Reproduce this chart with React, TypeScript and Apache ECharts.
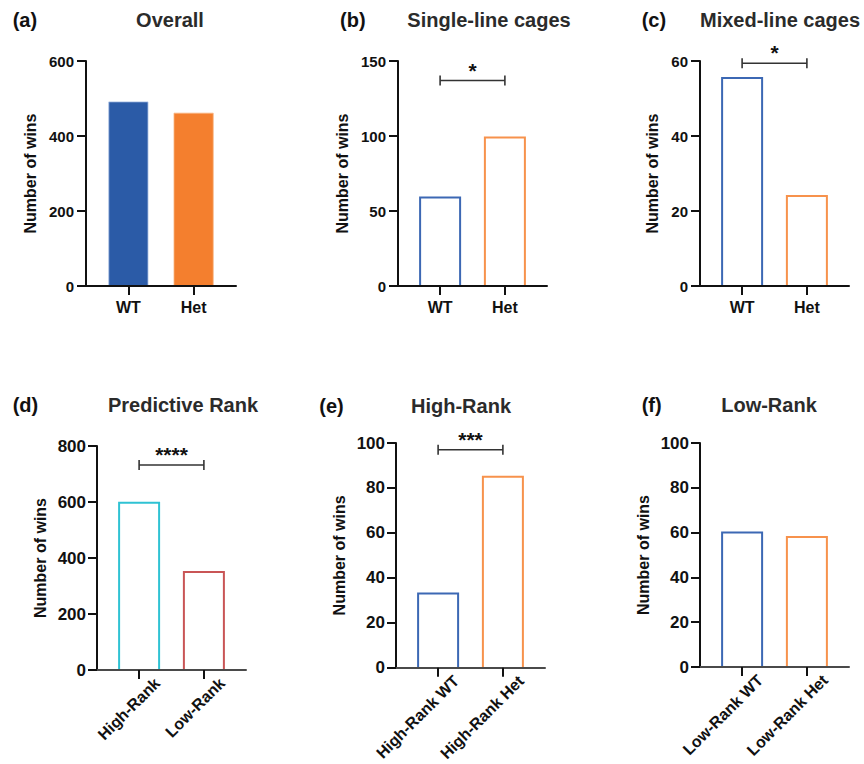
import React, { useEffect, useRef } from 'react';
import * as echarts from 'echarts';

const FONT = '"Liberation Sans", Arial, Helvetica, sans-serif';

// ---------- data ----------
const catsA = ['WT', 'Het'];
const valsA = [492, 462];
const catsB = ['WT', 'Het'];
const valsB = [59, 99];
const catsC = ['WT', 'Het'];
const valsC = [55.5, 24];
const catsD = ['High-Rank', 'Low-Rank'];
const valsD = [597, 350];
const catsE = ['High-Rank WT', 'High-Rank Het'];
const valsE = [33, 85];
const catsF = ['Low-Rank WT', 'Low-Rank Het'];
const valsF = [60, 58];

const ticksA = [0, 200, 400, 600];
const ticksB = [0, 50, 100, 150];
const ticksC = [0, 20, 40, 60];
const ticksD = [0, 200, 400, 600, 800];
const ticksE = [0, 20, 40, 60, 80, 100];
const ticksF = [0, 20, 40, 60, 80, 100];

const sigB = { y: 137, label: '*' };
const sigC = { y: 59.4, label: '*' };
const sigD = { y: 732, label: '****' };
const sigE = { y: 97, label: '***' };

const titles = ['Overall', 'Single-line cages', 'Mixed-line cages', 'Predictive Rank', 'High-Rank', 'Low-Rank'];
const letters = ['(a)', '(b)', '(c)', '(d)', '(e)', '(f)'];

// ---------- styles / layout ----------
const BLUE = '#2b5ba7';
const ORANGE = '#f47f2e';
const BLUE_L = '#3c68b4';
const ORANGE_L = '#f7924c';
const CYAN = '#2fc2d3';
const RED = '#c95556';
const BAR_W = 40;

const panels = [
  { cats: catsA, vals: valsA, ticks: ticksA, sig: null, filled: true, colors: [BLUE, ORANGE], row: 0,
    grid: { left: 86, top: 61, width: 150, height: 225 }, nameGap: 48, title: { x: 170, y: 20 }, letter: { x: 12.7, y: 20 } },
  { cats: catsB, vals: valsB, ticks: ticksB, sig: sigB, filled: false, colors: [BLUE_L, ORANGE_L], row: 0,
    grid: { left: 398, top: 61, width: 149, height: 225 }, nameGap: 48, title: { x: 489, y: 20 }, letter: { x: 340, y: 20 } },
  { cats: catsC, vals: valsC, ticks: ticksC, sig: sigC, filled: false, colors: [BLUE_L, ORANGE_L], row: 0,
    grid: { left: 700, top: 61, width: 149, height: 225 }, nameGap: 40, title: { x: 780, y: 20 }, letter: { x: 641.7, y: 20 } },
  { cats: catsD, vals: valsD, ticks: ticksD, sig: sigD, filled: false, colors: [CYAN, RED], row: 1,
    grid: { left: 97, top: 446, width: 149, height: 224 }, nameGap: 49, title: { x: 183, y: 405 }, letter: { x: 12.7, y: 405 } },
  { cats: catsE, vals: valsE, ticks: ticksE, sig: sigE, filled: false, colors: [BLUE_L, ORANGE_L], row: 1,
    grid: { left: 396, top: 443, width: 149, height: 226 }, nameGap: 49, title: { x: 461, y: 406 }, letter: { x: 319.3, y: 406 } },
  { cats: catsF, vals: valsF, ticks: ticksF, sig: null, filled: false, colors: [BLUE_L, ORANGE_L], row: 1,
    grid: { left: 700, top: 443, width: 149, height: 224 }, nameGap: 49, title: { x: 769, y: 405 }, letter: { x: 641.7, y: 405 } },
];

const LABEL_SHIFT = 0.28;

function buildOption() {
  const grid: any[] = [];
  const xAxis: any[] = [];
  const yAxis: any[] = [];
  const series: any[] = [];
  const graphic: any[] = [];

  panels.forEach((p, i) => {
    const bottom = p.row === 1;
    grid.push({ ...p.grid, containLabel: false });
    const tickPos = p.cats.map((_, j) => j);
    const labelPos = p.cats.map((_, j) => (bottom ? j + LABEL_SHIFT : j));
    xAxis.push({
      gridIndex: i,
      type: 'value',
      min: -0.65,
      max: 1.65,
      z: 5,
      splitLine: { show: false },
      axisLine: { show: true, onZero: false, lineStyle: { color: bottom ? '#4a4a4a' : '#111', width: 2 } },
      axisTick: { show: true, customValues: tickPos, length: 9, lineStyle: { color: '#111', width: 2 } },
      axisLabel: {
        customValues: labelPos,
        formatter: (v: number) => p.cats[Math.floor(v + 0.001)] ?? '',
        rotate: bottom ? 45 : 0,
        margin: bottom ? 10.5 : 13,
        color: '#111',
        fontFamily: FONT,
        fontWeight: 'bold',
        fontSize: 16,
      },
    });
    const max = p.ticks[p.ticks.length - 1];
    yAxis.push({
      gridIndex: i,
      type: 'value',
      min: 0,
      max,
      interval: p.ticks[1] - p.ticks[0],
      z: 5,
      splitLine: { show: false },
      axisLine: { show: true, onZero: false, lineStyle: { color: '#111', width: 2 } },
      axisTick: { show: true, length: 9, lineStyle: { color: '#111', width: 2 } },
      axisLabel: {
        margin: bottom ? 11 : 12,
        color: '#111',
        fontFamily: FONT,
        fontWeight: 'bold',
        fontSize: bottom ? 17 : 15,
      },
      name: 'Number of wins',
      nameLocation: 'middle',
      nameGap: p.nameGap,
      nameTextStyle: { color: '#111', fontFamily: FONT, fontWeight: 'bold', fontSize: 16 },
    });
    if (p.filled) {
      series.push({
        type: 'bar',
        xAxisIndex: i,
        yAxisIndex: i,
        barWidth: BAR_W,
        z: 1,
        data: p.vals.map((v, j) => ({
          value: [j, v],
          itemStyle: { color: p.colors[j], borderColor: j === 0 ? '#a8bfe4' : '#f9b27f', borderWidth: 0.8 },
        })),
      });
    } else {
      // open-bottom outlined bars (the bottom edge sits under the x axis)
      series.push({
        type: 'custom',
        xAxisIndex: i,
        yAxisIndex: i,
        z: 1,
        encode: { x: 0, y: 1 },
        data: p.vals.map((v, j) => [j, v]),
        renderItem: (params: any, api: any) => {
          const top = api.coord([api.value(0), api.value(1)]);
          const base = api.coord([api.value(0), 0]);
          const h = BAR_W / 2;
          return {
            type: 'polyline',
            shape: {
              points: [
                [top[0] - h, base[1]],
                [top[0] - h, top[1]],
                [top[0] + h, top[1]],
                [top[0] + h, base[1]],
              ],
            },
            style: { stroke: p.colors[params.dataIndex], lineWidth: 2, fill: 'none' },
          };
        },
      });
    }
    if (p.sig) {
      const sig = p.sig;
      series.push({
        type: 'custom',
        xAxisIndex: i,
        yAxisIndex: i,
        encode: { x: [0, 1], y: 2 },
        data: [[0, 1, sig.y]],
        renderItem: (params: any, api: any) => {
          const y = api.value(2);
          const a = api.coord([api.value(0), y]);
          const b = api.coord([api.value(1), y]);
          const st = { stroke: '#333', lineWidth: 1.6 };
          return {
            type: 'group',
            children: [
              { type: 'line', shape: { x1: a[0], y1: a[1], x2: b[0], y2: b[1] }, style: st },
              { type: 'line', shape: { x1: a[0], y1: a[1] - 5, x2: a[0], y2: a[1] + 5 }, style: st },
              { type: 'line', shape: { x1: b[0], y1: b[1] - 5, x2: b[0], y2: b[1] + 5 }, style: st },
              {
                type: 'text',
                x: (a[0] + b[0]) / 2,
                y: a[1],
                style: {
                  text: sig.label,
                  align: 'center',
                  textAlign: 'center',
                  verticalAlign: 'bottom',
                  textVerticalAlign: 'bottom',
                  font: `bold 21px ${FONT}`,
                  fill: '#111',
                },
              },
            ],
          };
        },
      });
    }
    graphic.push({
      type: 'text',
      x: p.title.x,
      y: p.title.y,
      style: {
        text: titles[i],
        align: 'center',
        textAlign: 'center',
        verticalAlign: 'middle',
        textVerticalAlign: 'middle',
        font: `bold 20px ${FONT}`,
        fill: '#2b2b2b',
      },
    });
    graphic.push({
      type: 'text',
      x: p.letter.x,
      y: p.letter.y,
      style: {
        text: letters[i],
        align: 'left',
        textAlign: 'left',
        verticalAlign: 'middle',
        textVerticalAlign: 'middle',
        font: `bold 20px ${FONT}`,
        fill: '#111',
      },
    });
  });

  return {
    animation: false,
    backgroundColor: '#ffffff',
    grid,
    xAxis,
    yAxis,
    series,
    graphic,
  };
}

export default function App() {
  const ref = useRef<HTMLDivElement>(null);
  useEffect(() => {
    document.body.style.margin = '0';
    if (!ref.current) return;
    const chart = echarts.init(ref.current, null, { renderer: 'svg' });
    chart.setOption(buildOption() as any);
    return () => chart.dispose();
  }, []);
  return <div ref={ref} style={{ width: 864, height: 764 }} />;
}
